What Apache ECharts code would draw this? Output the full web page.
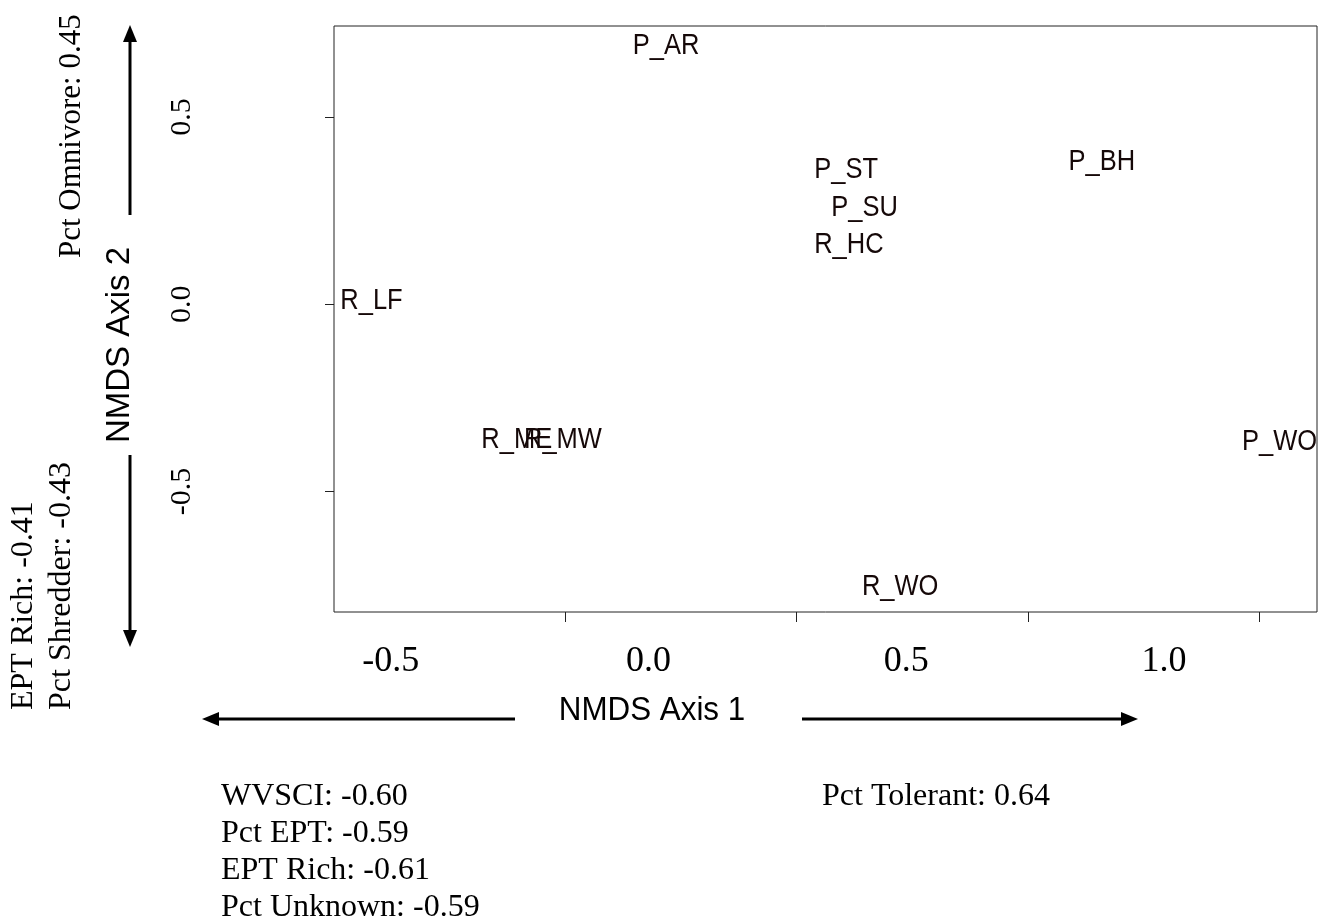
<!DOCTYPE html>
<html>
<head>
<meta charset="utf-8">
<script src="https://cdn.jsdelivr.net/npm/echarts@6/dist/echarts.min.js"></script>
<style>
html,body{margin:0;padding:0;background:#fff;}
#chart{width:1319px;height:922px;}
</style>
</head>
<body>
<div id="chart"></div>
<script>
// ---- data ----
var siteNames = ['P_AR','P_ST','P_SU','R_HC','P_BH','R_LF','R_ME','R_MW','P_WO','R_WO'];
var axis1Scores = [-0.282, 0.107, 0.147, 0.113, 0.660, -0.919, -0.605, -0.505, 1.044, 0.224];
var axis2Scores = [0.690, 0.359, 0.258, 0.160, 0.380, 0.008, -0.362, -0.362, -0.368, -0.755];
var xTickValues = [-0.5, 0, 0.5, 1.0];
var xTickLabels = ['-0.5', '0.0', '0.5', '1.0'];
var yTickValues = [-0.5, 0, 0.5];
var yTickLabels = ['-0.5', '0.0', '0.5'];
var axis1Left = ['WVSCI: -0.60', 'Pct EPT: -0.59', 'EPT Rich: -0.61', 'Pct Unknown: -0.59'];
var axis1Right = ['Pct Tolerant: 0.64'];
var axis2Top = ['Pct Omnivore: 0.45'];
var axis2Bottom = ['EPT Rich: -0.41', 'Pct Shredder: -0.43'];

var SERIF = 'Liberation Serif, Times New Roman, serif';
var SANS = 'Liberation Sans, Arial, sans-serif';

var chart = echarts.init(document.getElementById('chart'));

var seriesData = siteNames.map(function (n, i) { return [axis1Scores[i], axis2Scores[i], n]; });

function fmt(values, labels) {
  return function (v) {
    for (var i = 0; i < values.length; i++) { if (Math.abs(values[i] - v) < 1e-6) return labels[i]; }
    return '';
  };
}

var graphics = [];
// axis 1 title and arrows
graphics.push({type:'text', x:652, y:711, scaleX:0.95, style:{text:'NMDS Axis 1', font:'33px ' + SANS, fill:'#000', textAlign:'center', textVerticalAlign:'middle'}});
graphics.push({type:'line', shape:{x1:515, y1:719, x2:214, y2:719}, style:{stroke:'#000', lineWidth:3}});
graphics.push({type:'polygon', shape:{points:[[202,719],[219,712],[219,726]]}, style:{fill:'#000'}});
graphics.push({type:'line', shape:{x1:802, y1:719, x2:1126, y2:719}, style:{stroke:'#000', lineWidth:3}});
graphics.push({type:'polygon', shape:{points:[[1138,719],[1121,712],[1121,726]]}, style:{fill:'#000'}});
// axis 2 title and arrows
graphics.push({type:'text', x:120, y:345, rotation:Math.PI/2, style:{text:'NMDS Axis 2', font:'33px ' + SANS, fill:'#000', textAlign:'center', textVerticalAlign:'middle'}});
graphics.push({type:'line', shape:{x1:130, y1:215, x2:130, y2:37}, style:{stroke:'#000', lineWidth:3}});
graphics.push({type:'polygon', shape:{points:[[130,25],[123,42],[137,42]]}, style:{fill:'#000'}});
graphics.push({type:'line', shape:{x1:130, y1:455, x2:130, y2:635}, style:{stroke:'#000', lineWidth:3}});
graphics.push({type:'polygon', shape:{points:[[130,647],[123,630],[137,630]]}, style:{fill:'#000'}});
// loading texts
axis1Left.forEach(function (t, i) {
  graphics.push({type:'text', x:221, y:808 - 11 + i * 37, style:{text:t, font:'32px ' + SERIF, fill:'#000', textAlign:'left', textVerticalAlign:'middle'}});
});
axis1Right.forEach(function (t, i) {
  graphics.push({type:'text', x:822, y:808 - 11 + i * 37, style:{text:t, font:'32px ' + SERIF, fill:'#000', textAlign:'left', textVerticalAlign:'middle'}});
});
axis2Top.forEach(function (t, i) {
  graphics.push({type:'text', x:83 - 11 - i * 38, y:258, rotation:Math.PI/2, style:{text:t, font:'31px ' + SERIF, fill:'#000', textAlign:'left', textVerticalAlign:'middle'}});
});
axis2Bottom.forEach(function (t, i) {
  graphics.push({type:'text', x:35 - 11 + i * 38, y:710, rotation:Math.PI/2, style:{text:t, font:'32px ' + SERIF, fill:'#000', textAlign:'left', textVerticalAlign:'middle'}});
});

var option = {
  backgroundColor: '#fff',
  animation: false,
  grid: {left:334, top:26, right:2, bottom:310, show:true, borderColor:'#222', borderWidth:1, backgroundColor:'transparent'},
  xAxis: [
    {type:'value', min:-1.0, max:1.125, position:'bottom',
     axisLine:{show:false, onZero:false}, splitLine:{show:false},
     axisTick:{show:true, customValues:xTickValues, length:10, lineStyle:{color:'#222', width:1}},
     axisLabel:{show:false, customValues:xTickValues}},
    {type:'value', min:-0.610, max:1.297, position:'bottom',
     axisLine:{show:false, onZero:false}, splitLine:{show:false}, axisTick:{show:false},
     axisLabel:{show:true, customValues:xTickValues, formatter:fmt(xTickValues, xTickLabels), margin:32,
                fontFamily:SERIF, fontSize:36, color:'#000'}}
  ],
  yAxis: [
    {type:'value', min:-0.822, max:0.743, position:'left',
     axisLine:{show:false, onZero:false}, splitLine:{show:false},
     axisTick:{show:true, customValues:yTickValues, length:9, lineStyle:{color:'#222', width:1}},
     axisLabel:{show:true, customValues:yTickValues, formatter:fmt(yTickValues, yTickLabels), rotate:90, margin:137,
                fontFamily:SERIF, fontSize:30, color:'#000'}}
  ],
  series: [{
    type:'custom',
    xAxisIndex:0, yAxisIndex:0,
    clip:true,
    data: seriesData,
    renderItem: function (params, api) {
      var p = api.coord([api.value(0), api.value(1)]);
      return {type:'text', x:p[0], y:p[1], scaleX:0.85,
              style:{text:seriesData[params.dataIndex][2], font:'30px ' + SANS, fill:'#150808', textAlign:'center', textVerticalAlign:'middle'}};
    }
  }],
  graphic: graphics
};
chart.setOption(option);
</script>
</body>
</html>
